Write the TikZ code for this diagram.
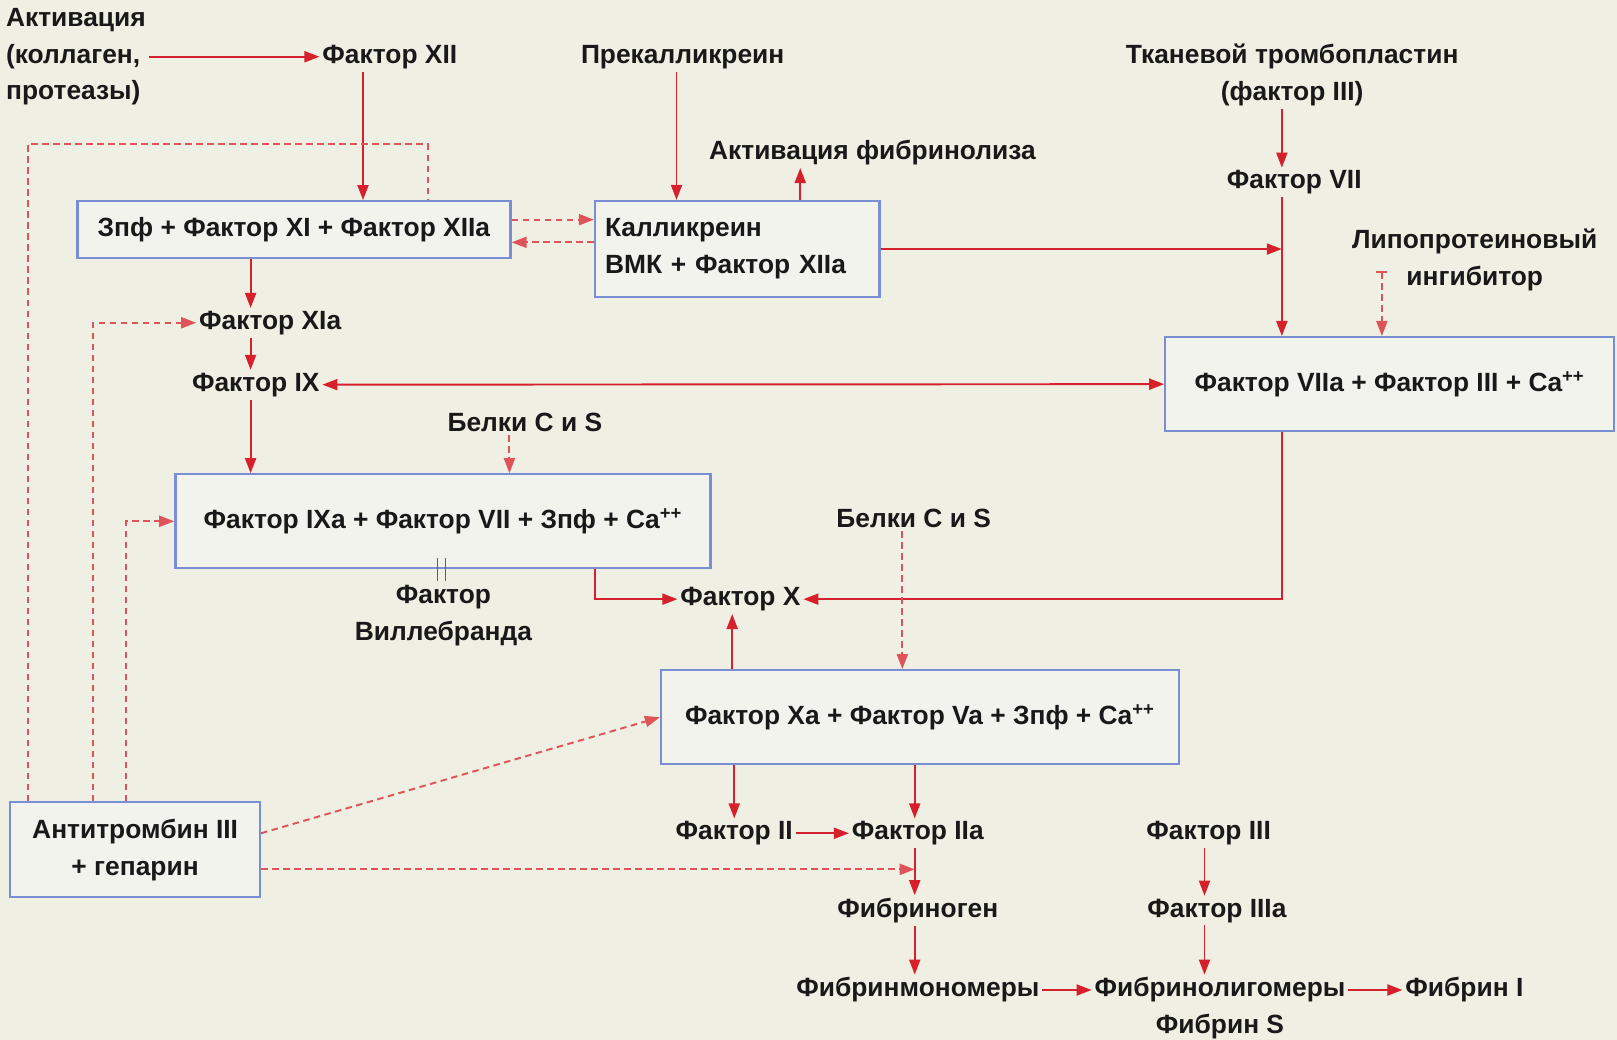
\documentclass[tikz,border=0pt]{standalone}
\usepackage{fontspec}
\setmainfont{Liberation Sans}
\usetikzlibrary{arrows.meta}
\definecolor{bgcream}{RGB}{239,239,227}
\definecolor{boxfill}{RGB}{243,243,237}
\definecolor{boxblue}{RGB}{122,142,214}
\definecolor{arred}{RGB}{214,32,44}
\definecolor{dashred}{RGB}{222,84,88}
\definecolor{vwblue}{RGB}{58,92,204}
\definecolor{txt}{RGB}{25,25,25}
\begin{document}
\begin{tikzpicture}[x=0.2062mm,y=-0.2062mm,>={Triangle[length=3mm,width=2.2mm]},
  every node/.style={font=\fontsize{15}{21}\selectfont\bfseries,text=txt,inner sep=1.5pt},
  box/.style={draw=boxblue,fill=boxfill,line width=1.3pt,inner sep=0pt},
  arr/.style={draw=arred,line width=1.1pt,->},
  darr/.style={arr,draw=dashred,dash pattern=on 1.3mm off 0.9mm},
  dline/.style={draw=dashred,line width=1.1pt,dash pattern=on 1.3mm off 0.9mm}]
\fill[bgcream] (0,0) rectangle (1568,1008);
\useasboundingbox (0,0) rectangle (1568,1008);
\coordinate (c12) at (352,0);
\coordinate (cpk) at (656,0);
\coordinate (caf) at (776,0);
\coordinate (c7) at (1243,0);
\coordinate (cli) at (1340,0);
\coordinate (c9) at (243,0);
\coordinate (cbs) at (494,0);
\coordinate (c10) at (577,0);
\coordinate (cbs2) at (875,0);
\coordinate (cx) at (710,0);
\coordinate (c2) at (712,0);
\coordinate (c2a) at (887,0);
\coordinate (c3) at (1168,0);
\coordinate (cvw) at (428,0);
\coordinate (cat1) at (27,0);
\coordinate (cat2) at (90,0);
\coordinate (cat3) at (122,0);
\coordinate (cd) at (415,140);
\coordinate (r1) at (0,213);
\coordinate (r2) at (0,235);
\coordinate (r3) at (0,263);
\coordinate (r4) at (0,808);
\coordinate (r5) at (0,843);
\node[anchor=west,align=left] at (3,55)(act){Активация\\(коллаген,\\протеазы)};
\node at (378,55)(f12){Фактор XII};
\node at (662,55)(prek){Прекалликреин};
\node at (846,148)(afib){Активация фибринолиза};
\node[align=center] at (1253,73)(tkan){Тканевой тромбопластин\\(фактор III)};
\node at (1255,177)(f7){Фактор VII};
\node[align=center] at (1430,252)(lipo){Липопротеиновый\\ингибитор};
\node[box,minimum width=86.6mm,minimum height=11.3mm] at (285,222.5)(b1){Зпф + Фактор XI + Фактор XIIa};
\node[box,align=left,text width=52.9mm,inner xsep=2mm,minimum height=19.2mm] at (715,241.5)(b2){Калликреин\\ВМК + Фактор XIIa};
\node[box,minimum width=89.7mm,minimum height=18.8mm] at (1347.5,372.5)(b3){Фактор VIIa + Фактор III + Ca\textsuperscript{++}};
\node at (262,313)(f11a){Фактор XIa};
\node at (248,373)(f9){Фактор IX};
\node at (509,410)(bcs1){Белки C и S};
\node[box,minimum width=107mm,minimum height=18.8mm] at (429.5,505.5)(b4){Фактор IXa + Фактор VII + Зпф + Ca\textsuperscript{++}};
\node[align=center] at (430,597)(vwf){Фактор\\Виллебранда};
\node at (718,581)(f10){Фактор X};
\node at (886,503)(bcs2){Белки C и S};
\node[box,minimum width=103.5mm,minimum height=18.8mm] at (892,695.5)(b5){Фактор Xa + Фактор Va + Зпф + Ca\textsuperscript{++}};
\node[box,align=center,minimum width=49.9mm,minimum height=19mm] at (131,824)(antith){Антитромбин III\\+ гепарин};
\node at (712,808)(f2){Фактор II};
\node at (890,808)(f2a){Фактор IIa};
\node at (890,883)(fgen){Фибриноген};
\node at (890,960)(fmono){Фибринмономеры};
\node at (1183,960)(folig){Фибринолигомеры};
\node at (1183,995)(fs){Фибрин S};
\node at (1420,960)(f1){Фибрин I};
\node at (1172,808)(f3){Фактор III};
\node at (1180,883)(f3a){Фактор IIIa};
\path[arr] (act) -- (f12);
\path[arr] (f12.south -| c12) -- (b1.north -| c12);
\path[arr] (prek.south -| cpk) -- (b2.north -| cpk);
\path[arr] (b2.north -| caf) -- (afib.south -| caf);
\path[darr] (b1.east |- r1) -- (b2.west |- r1);
\path[darr] (b2.west |- r2) -- (b1.east |- r2);
\path[arr] (b2.east) -- (b2.east -| c7);
\path[arr] (tkan.south -| c7) -- (f7.north -| c7);
\path[arr] (f7.south -| c7) -- (b3.north -| c7);
\path[dline,{Bar[width=2.2mm,line width=0.8pt]}->] (cli |- r3) -- (b3.north -| cli);
\path[arr] (b1.south -| c9) -- (f11a.north -| c9);
\path[arr] (f11a.south -| c9) -- (f9.north -| c9);
\path[arr] (f9.south -| c9) -- (b4.north -| c9);
\path[arr,<->] (f9.east) -- (b3.west);
\path[darr] (bcs1.south -| cbs) -- (b4.north -| cbs);
\path (b4.south -| cvw) coordinate (vw);
\draw[vwblue,line width=0.8pt] ([xshift=-0.8mm,yshift=2.3mm]vw) -- ([xshift=-0.8mm,yshift=-2.3mm]vw) ([xshift=0.8mm,yshift=2.3mm]vw) -- ([xshift=0.8mm,yshift=-2.3mm]vw);
\path[arr] (b4.south -| c10) |- (f10.west);
\path[arr] (b3.south -| c7) |- (f10.east);
\path[darr] (bcs2.south -| cbs2) -- (b5.north -| cbs2);
\path[arr] (b5.north -| cx) -- (f10.south -| cx);
\path[darr] (antith.east |- r4) -- (b5.west);
\path[darr] (antith.east |- r5) -- (r5 -| c2a);
\path[dline] (antith.north -| cat1) |- (cd) -- (b1.north -| cd);
\path[darr] (antith.north -| cat2) |- (f11a.west);
\path[darr] (antith.north -| cat3) |- (b4.west);
\path[arr] (b5.south -| c2) -- (f2.north -| c2);
\path[arr] (b5.south -| c2a) -- (f2a.north -| c2a);
\path[arr] (f2) -- (f2a);
\path[arr] (f2a.south -| c2a) -- (fgen.north -| c2a);
\path[arr] (fgen.south -| c2a) -- (fmono.north -| c2a);
\path[arr] (fmono) -- (folig);
\path[arr] (folig) -- (f1);
\path[arr] (f3.south -| c3) -- (f3a.north -| c3);
\path[arr] (f3a.south -| c3) -- (folig.north -| c3);
\end{tikzpicture}
\end{document}
